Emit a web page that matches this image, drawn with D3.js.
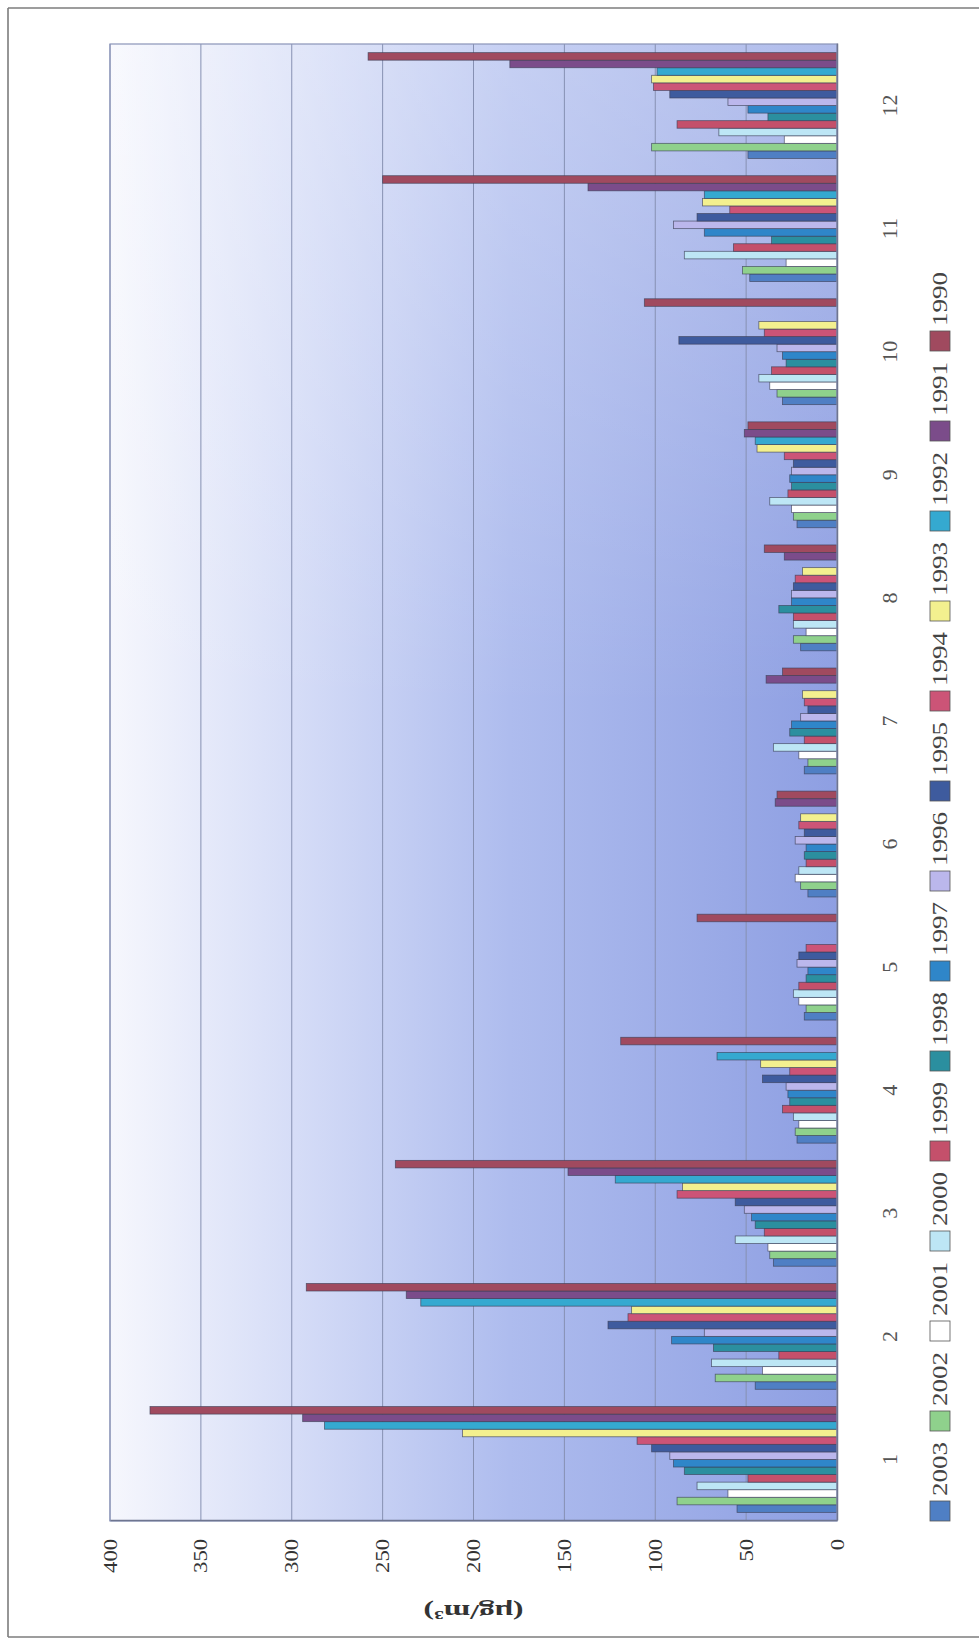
<!DOCTYPE html>
<html>
<head>
<meta charset="utf-8">
<script src="https://cdn.jsdelivr.net/npm/d3@7"></script>
<style>
  html, body { margin: 0; padding: 0; background: #ffffff; }
  svg { display: block; }
</style>
</head>
<body>
<script>
// Monthly mean concentrations (µg/m³), one array per year, months 1..12.
// null = no measurement for that month.
const months = ["1","2","3","4","5","6","7","8","9","10","11","12"];
const years = ["2003","2002","2001","2000","1999","1998","1997","1996","1995","1994","1993","1992","1991","1990"];
const valueTicks = [0, 50, 100, 150, 200, 250, 300, 350, 400];

const y2003 = [55, 45, 35, 22, 18, 16, 18, 20, 22, 30, 48, 49];
const y2002 = [88, 67, 37, 23, 17, 20, 16, 24, 24, 33, 52, 102];
const y2001 = [60, 41, 38, 21, 21, 23, 21, 17, 25, 37, 28, 29];
const y2000 = [77, 69, 56, 24, 24, 21, 35, 24, 37, 43, 84, 65];
const y1999 = [49, 32, 40, 30, 21, 17, 18, 24, 27, 36, 57, 88];
const y1998 = [84, 68, 45, 26, 17, 18, 26, 32, 25, 28, 36, 38];
const y1997 = [90, 91, 47, 27, 16, 17, 25, 25, 26, 30, 73, 49];
const y1996 = [92, 73, 51, 28, 22, 23, 20, 25, 25, 33, 90, 60];
const y1995 = [102, 126, 56, 41, 21, 18, 16, 24, 24, 87, 77, 92];
const y1994 = [110, 115, 88, 26, 17, 21, 18, 23, 29, 40, 59, 101];
const y1993 = [206, 113, 85, 42, null, 20, 19, 19, 44, 43, 74, 102];
const y1992 = [282, 229, 122, 66, null, null, null, null, 45, null, 73, 99];
const y1991 = [294, 237, 148, null, null, 34, 39, 29, 51, null, 137, 180];
const y1990 = [378, 292, 243, 119, 77, 33, 30, 40, 49, 106, 250, 258];

const seriesValues = [y2003, y2002, y2001, y2000, y1999, y1998, y1997, y1996,
                      y1995, y1994, y1993, y1992, y1991, y1990];
const seriesColors = ["#4f7fc4", "#8fd18c", "#ffffff", "#bde6f5", "#c4506b", "#2b8f9f",
                      "#2f86c9", "#bbb7ec", "#3e5b9e", "#cc5477", "#f3f08f", "#35a9d0",
                      "#7b4c8a", "#a04a5f"];

const unitLabel = "(μg/m³)";

// ---- layout: the chart is drawn in its own frame, then turned a quarter turn
const PAGE_W = 979, PAGE_H = 1645;
const plotLeft = 110, plotRight = 837, plotTop = 44, plotBottom = 1521;
const W = plotBottom - plotTop;   // length of the category axis
const H = plotRight - plotLeft;   // length of the value axis
const FONT = "'Liberation Serif', 'Times New Roman', serif";

const svg = d3.select("body").append("svg")
  .attr("width", PAGE_W).attr("height", PAGE_H);

// page frame
const frame = svg.append("g").attr("stroke", "#7c7c7c").attr("stroke-width", 1.6).attr("fill", "none");
frame.append("line").attr("x1", 8).attr("y1", 8).attr("x2", 979).attr("y2", 8);
frame.append("line").attr("x1", 8).attr("y1", 8).attr("x2", 8).attr("y2", 1637);
frame.append("line").attr("x1", 8).attr("y1", 1637).attr("x2", 979).attr("y2", 1637);

const defs = svg.append("defs");
const plotFill = defs.append("linearGradient").attr("id", "plotFill")
  .attr("x1", 0).attr("y1", 0).attr("x2", 0).attr("y2", 1);
[[0, "#f6f7fd"], [0.25, "#d6ddf7"], [0.55, "#aebcee"], [1, "#8e9fe2"]]
  .forEach(([o, c]) => plotFill.append("stop").attr("offset", o).attr("stop-color", c));
const fadeLate = defs.append("linearGradient").attr("id", "fadeLate")
  .attr("x1", 0).attr("y1", 0).attr("x2", 1).attr("y2", 0);
[[0, 0], [0.55, 0], [1, 0.3]]
  .forEach(([o, a]) => fadeLate.append("stop").attr("offset", o)
    .attr("stop-color", "#ffffff").attr("stop-opacity", a));

const chart = svg.append("g")
  .attr("transform", `translate(${plotLeft},${plotBottom}) rotate(-90)`);

const x0 = d3.scaleBand().domain(months).range([0, W]).paddingInner(0.14).paddingOuter(0.07);
const x1 = d3.scaleBand().domain(years).range([0, x0.bandwidth()]);
const y = d3.scaleLinear().domain([0, 400]).range([H, 0]);

// plot background
chart.append("rect").attr("x", 0).attr("y", 0).attr("width", W).attr("height", H)
  .attr("fill", "url(#plotFill)");
chart.append("rect").attr("x", 0).attr("y", 0).attr("width", W).attr("height", H)
  .attr("fill", "url(#fadeLate)");

// gridlines
chart.append("g").selectAll("line").data(valueTicks.filter(v => v > 0)).join("line")
  .attr("x1", 0).attr("x2", W)
  .attr("y1", d => y(d)).attr("y2", d => y(d))
  .attr("stroke", "#8690b2").attr("stroke-width", 1);

// bars
const groups = chart.append("g").selectAll("g").data(months).join("g")
  .attr("transform", m => `translate(${x0(m)},0)`);
groups.selectAll("rect")
  .data((m, i) => years.map((yr, j) => ({ yr, j, v: seriesValues[j][i] }))
    .filter(d => d.v !== null))
  .join("rect")
  .attr("x", d => x1(d.yr))
  .attr("y", d => y(d.v))
  .attr("width", x1.bandwidth())
  .attr("height", d => H - y(d.v))
  .attr("fill", d => seriesColors[d.j])
  .attr("stroke", "#3b3f55").attr("stroke-opacity", 0.75).attr("stroke-width", 0.8);

// plot border
chart.append("rect").attr("x", 0).attr("y", 0).attr("width", W).attr("height", H)
  .attr("fill", "none").attr("stroke", "#8a94b8").attr("stroke-width", 1.2);

// value axis
const yAxis = chart.append("g")
  .call(d3.axisLeft(y).tickValues(valueTicks).tickSize(0).tickPadding(18));
yAxis.select(".domain").attr("stroke", "#6e7590").attr("stroke-width", 1.5);
yAxis.selectAll("text")
  .attr("font-family", FONT).attr("font-size", 19).attr("fill", "#333")
  .attr("textLength", d => String(d).length * 11.3)
  .attr("lengthAdjust", "spacingAndGlyphs");

// category axis
const xAxis = chart.append("g").attr("transform", `translate(0,${H})`)
  .call(d3.axisBottom(x0).tickSize(0).tickPadding(44));
xAxis.select(".domain").attr("stroke", "#6e7590").attr("stroke-width", 1.5);
xAxis.selectAll("text")
  .attr("font-family", FONT).attr("font-size", 22).attr("fill", "#555");

// unit title
chart.append("text")
  .attr("transform", `translate(-91,${H / 2}) rotate(-90)`)
  .attr("text-anchor", "middle").attr("dy", "0.35em")
  .attr("font-family", FONT).attr("font-size", 21).attr("font-weight", "bold")
  .attr("fill", "#333")
  .attr("textLength", 100).attr("lengthAdjust", "spacingAndGlyphs")
  .text(unitLabel);

// legend
const legend = chart.append("g").attr("transform", `translate(0,${H + 93})`);
const item = legend.selectAll("g").data(years).join("g")
  .attr("transform", (d, j) => `translate(${j * 90},0)`);
item.append("rect").attr("x", 0).attr("y", 0).attr("width", 20).attr("height", 20)
  .attr("fill", (d, j) => seriesColors[j])
  .attr("stroke", "#555").attr("stroke-width", 0.8);
item.append("text").attr("x", 25).attr("y", 10).attr("dy", "0.35em")
  .attr("font-family", FONT).attr("font-size", 21).attr("fill", "#444")
  .attr("textLength", 54).attr("lengthAdjust", "spacingAndGlyphs")
  .text(d => d);
</script>
</body>
</html>
